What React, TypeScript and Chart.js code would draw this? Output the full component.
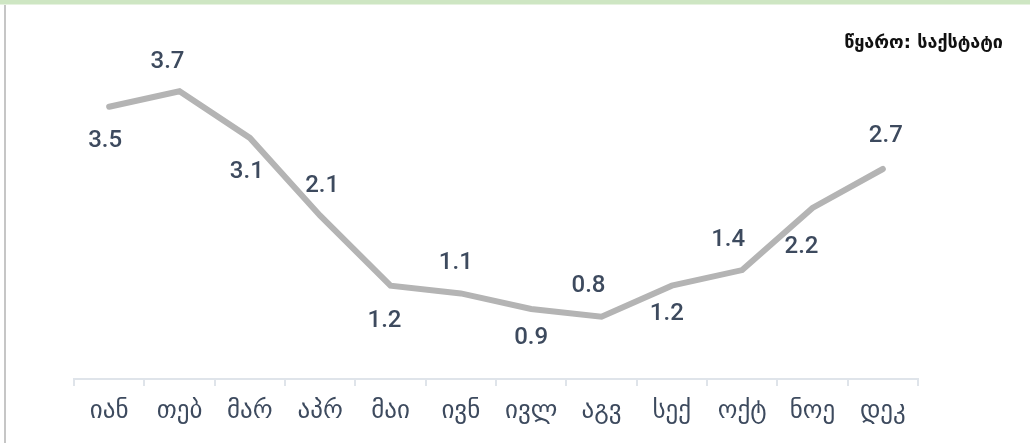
import React, { useEffect, useRef } from "react";
import { Chart, registerables } from "chart.js";

Chart.register(...registerables);

const months = ["იან", "თებ", "მარ", "აპრ", "მაი", "ივნ", "ივლ", "აგვ", "სექ", "ოქტ", "ნოე", "დეკ"];
const inflation = [3.5, 3.7, 3.1, 2.1, 1.2, 1.1, 0.9, 0.8, 1.2, 1.4, 2.2, 2.7];
// label offset (dx, dy) from the point, in px
const labelDx = [-4, -12, -3, 2, -6, -5, 0, -13, -5, -14, -11, 3];
const labelDy = [34, -29, 34, -30, 35, -30, 29, -31, 28, -30, 39, -33];
const sourceText = "წყარო: საქსტატი";

const labelPlugin = {
  id: "pointLabels",
  afterDatasetsDraw(chart: any) {
    const ctx = chart.ctx;
    const meta = chart.getDatasetMeta(0);
    ctx.save();
    ctx.fillStyle = "#3d4a5e";
    ctx.font = "500 24px Roboto";
    ctx.textAlign = "center";
    ctx.textBaseline = "middle";
    meta.data.forEach((pt: any, i: number) => {
      ctx.fillText(inflation[i].toFixed(1), pt.x + labelDx[i], pt.y + labelDy[i]);
    });
    ctx.restore();
  },
};

export default function App() {
  const ref = useRef<HTMLCanvasElement>(null);
  useEffect(() => {
    if (!ref.current) return;
    const chart = new Chart(ref.current, {
      type: "line",
      data: {
        labels: months,
        datasets: [
          {
            data: inflation,
            borderColor: "#b4b4b4",
            borderWidth: 6,
            pointRadius: 0,
            tension: 0,
            borderCapStyle: "round",
            fill: false,
          },
        ],
      },
      options: {
        responsive: false,
        animation: false,
        layout: { padding: { left: 74, right: 112, top: 29, bottom: 7 } },
        plugins: { legend: { display: false }, tooltip: { enabled: false } },
        scales: {
          x: {
            offset: true,
            grid: {
              offset: true,
              drawOnChartArea: false,
              drawTicks: true,
              tickLength: 7,
              color: "#dfe4ea",
              lineWidth: 2,
            },
            border: { display: true, color: "#dfe4ea", width: 2 },
            ticks: {
              color: "#3d4a5e",
              font: { family: "DejaVu Sans", size: 25 },
              padding: 10,
              maxRotation: 0,
            },
          },
          y: { display: false, min: 0, max: 4.5 },
        },
      },
      plugins: [labelPlugin],
    });
    return () => chart.destroy();
  }, []);

  return (
    <div style={{ position: "fixed", left: 0, top: 0, width: 1030, height: 443, background: "#fff", overflow: "hidden" }}>
      <div style={{ position: "absolute", left: 0, top: 0, width: 1030, height: 4, background: "#cee6c3" }} />
      <div style={{ position: "absolute", left: 0, top: 4, width: 1030, height: 1, background: "#e6f2e0" }} />
      <div style={{ position: "absolute", left: 4, top: 5, width: 2, height: 438, background: "#c6c6c6" }} />
      <canvas ref={ref} width={1030} height={443} style={{ position: "absolute", left: 0, top: 0 }} />
      <div
        style={{
          position: "absolute",
          right: 27,
          top: 31,
          fontFamily: "DejaVu Sans",
          fontWeight: "bold",
          fontSize: 18,
          color: "#111",
          whiteSpace: "nowrap",
        }}
      >
        {sourceText}
      </div>
    </div>
  );
}
